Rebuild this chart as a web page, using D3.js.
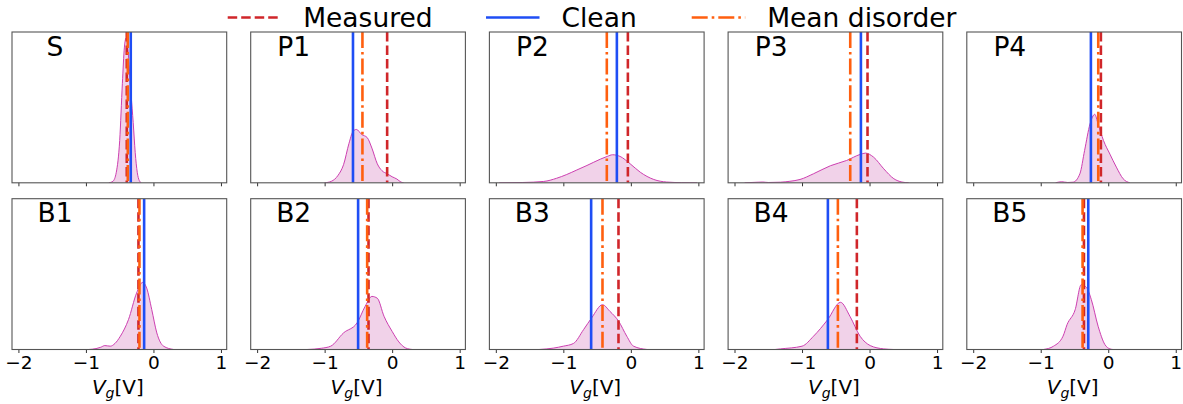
<!DOCTYPE html>
<html><head><meta charset="utf-8">
<script src="https://cdn.jsdelivr.net/npm/d3@7"></script>
<style>body{margin:0;background:#fff;} svg{display:block;font-family:"DejaVu Sans",sans-serif;}</style>
</head><body><svg id="c" width="1183" height="404"></svg>
<script>
// ---- data ----
const panelNames = ["S","P1","P2","P3","P4","B1","B2","B3","B4","B5"];
const measured     = [-0.395,-0.074,-0.044,-0.030,-0.109,-0.222,-0.350,-0.183,-0.188,-0.360];
const clean        = [-0.336,-0.580,-0.207,-0.128,-0.257,-0.138,-0.504,-0.588,-0.617,-0.296];
const meanDisorder = [-0.380,-0.440,-0.356,-0.286,-0.148,-0.207,-0.370,-0.420,-0.469,-0.380];
const xTicks = [-2,-1,0,1];
const legendLabels = ["Measured","Clean","Mean disorder"];
// density (relative, shared y scale) as [Vg, density]
const densS  = [[-0.66,0],[-0.60,0.01],[-0.55,0.07],[-0.50,0.28],[-0.46,0.66],[-0.43,0.9],[-0.405,0.96],[-0.38,0.9],[-0.355,0.74],[-0.33,0.58],[-0.30,0.40],[-0.27,0.2],[-0.24,0.07],[-0.21,0.015],[-0.18,0]];
const densP1 = [[-1.0,0],[-0.9,0.01],[-0.8,0.05],[-0.72,0.12],[-0.64,0.26],[-0.58,0.34],[-0.53,0.354],[-0.45,0.32],[-0.37,0.30],[-0.3,0.23],[-0.22,0.126],[-0.15,0.08],[-0.074,0.06],[0.0,0.04],[0.07,0.025],[0.13,0.005],[0.17,0]];
const densP2 = [[-1.95,0],[-1.6,0.002],[-1.29,0.009],[-1.1,0.03],[-0.95,0.055],[-0.8,0.085],[-0.65,0.115],[-0.45,0.157],[-0.35,0.175],[-0.27,0.186],[-0.16,0.175],[-0.01,0.126],[0.14,0.07],[0.34,0.022],[0.53,0.005],[0.75,0.001],[0.98,0]];
const densP3 = [[-1.85,0],[-1.65,0.004],[-1.58,0.005],[-1.5,0.002],[-1.32,0.004],[-1.18,0.01],[-1.03,0.022],[-0.83,0.06],[-0.58,0.113],[-0.34,0.148],[-0.14,0.188],[-0.06,0.197],[0.06,0.17],[0.21,0.093],[0.36,0.027],[0.48,0.005],[0.58,0]];
const densP4 = [[-0.78,0],[-0.69,0.007],[-0.6,0.002],[-0.52,0.004],[-0.42,0.06],[-0.35,0.215],[-0.27,0.39],[-0.2,0.454],[-0.15,0.39],[-0.07,0.28],[0.025,0.19],[0.12,0.104],[0.22,0.027],[0.32,0]];
const densB1 = [[-0.96,0],[-0.85,0.006],[-0.78,0.015],[-0.72,0.026],[-0.64,0.022],[-0.57,0.04],[-0.49,0.088],[-0.37,0.198],[-0.25,0.374],[-0.16,0.445],[-0.1,0.407],[-0.025,0.264],[0.05,0.11],[0.15,0.022],[0.3,0]];
const densB2 = [[-1.26,0],[-1.05,0.008],[-0.91,0.022],[-0.72,0.11],[-0.52,0.176],[-0.4,0.286],[-0.3,0.352],[-0.22,0.34],[-0.12,0.22],[0.0,0.12],[0.1,0.05],[0.2,0.01],[0.3,0]];
const densB3 = [[-1.36,0],[-1.15,0.009],[-1.0,0.022],[-0.85,0.04],[-0.7,0.132],[-0.58,0.21],[-0.42,0.297],[-0.31,0.253],[-0.18,0.187],[-0.06,0.088],[0.04,0.022],[0.24,0]];
const densB4 = [[-1.4,0],[-1.32,0.004],[-1.0,0.022],[-0.83,0.088],[-0.62,0.198],[-0.43,0.313],[-0.29,0.22],[-0.14,0.088],[0.01,0.026],[0.21,0.004],[0.36,0]];
const densB5 = [[-0.96,0],[-0.81,0.022],[-0.67,0.088],[-0.61,0.165],[-0.49,0.264],[-0.4,0.43],[-0.32,0.41],[-0.25,0.33],[-0.15,0.154],[-0.05,0.033],[0.025,0.004],[0.07,0]];
const densities = [densS,densP1,densP2,densP3,densP4,densB1,densB2,densB3,densB4,densB5];

// ---- style / layout ----
const colMeasured = "#d0262a", colClean = "#1f4ef5", colMean = "#ff5f0f";
const lw = 2.6;
const dashMeasured = "9.5,4", dashMean = "16,4,2.6,4";
const svg = d3.select("#c");
const left0 = 12, step = 238.7, pw = 214.7;
const rowTop = [32, 198.7], ph = 150.8;

const x = d3.scaleLinear().domain([-2.095, 1.085]).range([0, pw]);
const y = d3.scaleLinear().domain([0, 1]).range([ph, 0]);
const area = d3.area().x(d=>x(d[0])).y0(ph).y1(d=>y(d[1])).curve(d3.curveMonotoneX);
const line = d3.line().x(d=>x(d[0])).y(d=>y(d[1])).curve(d3.curveMonotoneX);

panelNames.forEach((name,i)=>{
  const row = Math.floor(i/5), col = i%5;
  const g = svg.append("g").attr("transform",`translate(${left0+col*step},${rowTop[row]})`);
  const clipId = "clip"+i;
  g.append("clipPath").attr("id",clipId).append("rect").attr("width",pw).attr("height",ph);
  const inner = g.append("g").attr("clip-path",`url(#${clipId})`);
  inner.append("path").datum(densities[i]).attr("d",area).attr("fill","#e7b4da").attr("fill-opacity",0.6);
  inner.append("path").datum(densities[i]).attr("d",line).attr("fill","none").attr("stroke","#cc3fb0").attr("stroke-width",1);
  const vl = (v,c,dash)=>{
    inner.append("line").attr("x1",x(v)).attr("x2",x(v)).attr("y1",0).attr("y2",ph)
      .attr("stroke",c).attr("stroke-width",lw).attr("stroke-dasharray",dash);
  };
  vl(measured[i],colMeasured,dashMeasured);
  vl(clean[i],colClean,null);
  vl(meanDisorder[i],colMean,dashMean);
  // axis
  const ax = d3.axisBottom(x).tickValues(xTicks).tickSize(3.5).tickPadding(3)
      .tickFormat(row===1 ? (d=>d<0? "\u2212"+Math.abs(d): d) : ()=>"");
  const axg = g.append("g").attr("transform",`translate(0,${ph})`).call(ax);
  axg.select(".domain").remove();
  axg.selectAll(".tick line").attr("stroke","#333").attr("stroke-width",1);
  axg.selectAll(".tick text").attr("font-size",18.5).attr("fill","#000").attr("font-family","DejaVu Sans");
  g.append("rect").attr("width",pw).attr("height",ph).attr("fill","none").attr("stroke","#555").attr("stroke-width",1.1);
  g.append("text").attr("x",43).attr("y",23.6).attr("text-anchor","middle").attr("font-size",26.5).text(name);
  if(row===1){
    const t = g.append("text").attr("x",pw/2-1.5).attr("y",ph+45).attr("text-anchor","middle").attr("font-size",20);
    t.append("tspan").attr("font-style","italic").text("V");
    t.append("tspan").attr("font-style","italic").attr("font-size",14).attr("dy",4).text("g");
    t.append("tspan").attr("dy",-4).text("[V]");
  }
});

// legend
const legX = [227.7, 486, 691.7], legLineW = 53.5, legTextOff = 75.5;
const legCols = [colMeasured,colClean,colMean], legDash=[dashMeasured,null,dashMean];
legendLabels.forEach((lab,i)=>{
  svg.append("line").attr("x1",legX[i]).attr("x2",legX[i]+legLineW).attr("y1",17.5).attr("y2",17.5)
    .attr("stroke",legCols[i]).attr("stroke-width",lw).attr("stroke-dasharray",legDash[i]);
  svg.append("text").attr("x",legX[i]+legTextOff).attr("y",27.3).attr("font-size",26.5).text(lab);
});
</script></body></html>
